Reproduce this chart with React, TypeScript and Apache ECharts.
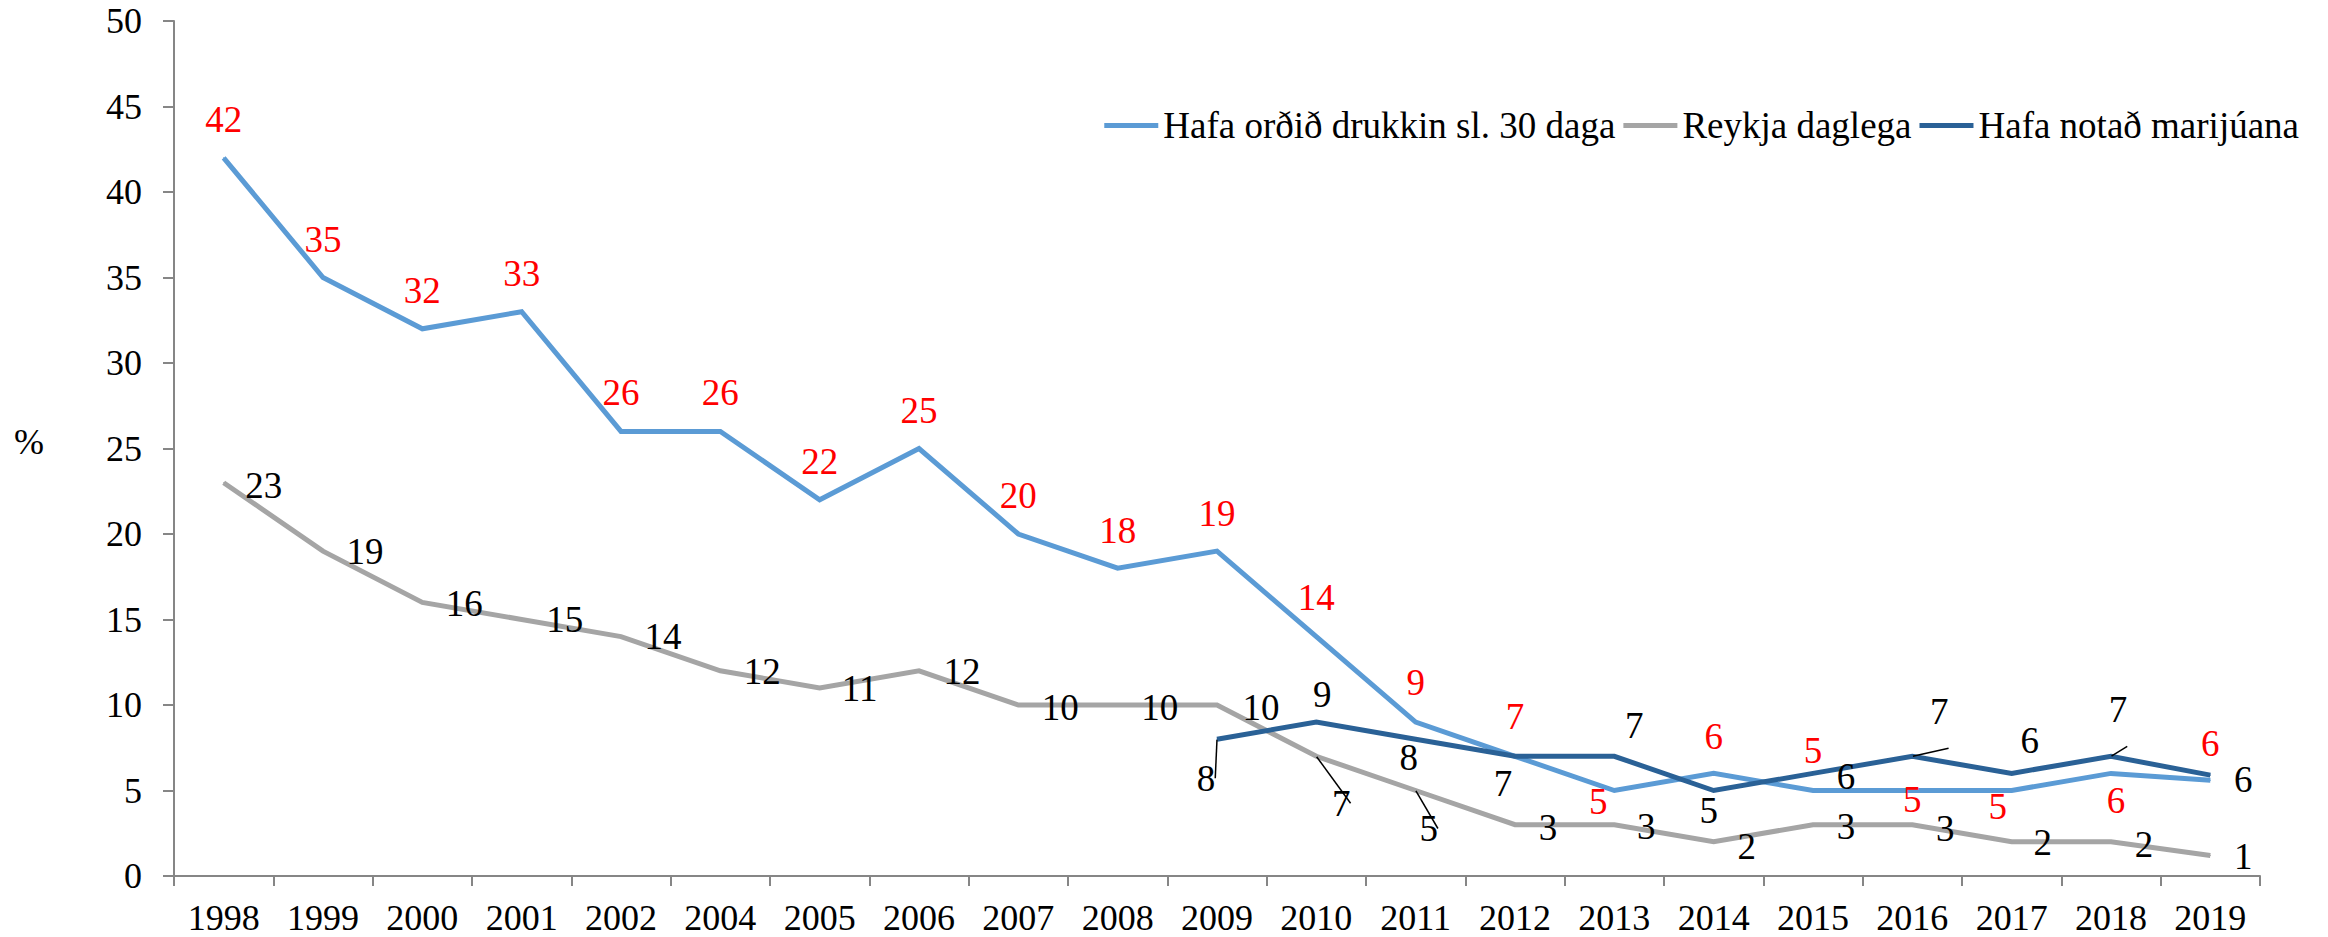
import React, { useEffect, useRef } from "react";
import * as echarts from "echarts";

const years = ["1998","1999","2000","2001","2002","2004","2005","2006","2007","2008","2009","2010","2011","2012","2013","2014","2015","2016","2017","2018","2019"];
const drunkName = "Hafa orðið drukkin sl. 30 daga";
const smokeName = "Reykja daglega";
const mariName = "Hafa notað marijúana";
const drunk = [42,35,32,33,26,26,22,25,20,18,19,14,9,7,5,6,5,5,5,6,5.6];
const smoking = [23,19,16,15,14,12,11,12,10,10,10,7,5,3,3,2,3,3,2,2,1.2];
const marijuana = [null,null,null,null,null,null,null,null,null,null,8,9,8,7,7,5,6,7,6,7,5.9];

// label placement (style only): [dx, dy] from the point to the label centre
const drunkOff = [[0,-38],[0,-38],[0,-38],[0,-38],[0,-39],[0,-39],[0,-38],[0,-38],[0,-39],[0,-38],[0,-38],[0,-39],[0,-40],[0,-40],[-16,11],[0,-37],[0,-40],[0,9],[-14,16],[5,27],[0,-37]];
const smokeOff = [[40,3],[42,0],[42,1],[43,0],[42,0],[42,1],[40,1],[43,1],[42,2],[42,2],[44,2],[25,47],[13,38],[33,3],[32,2],[33,5],[33,2],[33,4],[31,1],[33,3],[33,1]];
const mariOff = [null,null,null,null,null,null,null,null,null,null,[-11,39],[6,-28],[-7,18],[-12,27],[20,-31],[-5,20],[33,3],[27,-45],[18,-33],[7,-47],[33,4]];
const smokeLeaders = [11, 12];
const mariLeaders = [10, 17, 19];

const FONT = "'Liberation Serif', 'Times New Roman', serif";

function items(vals: (number | null)[], offs: any[], leaders: number[]) {
  return vals.map((v, i) => {
    if (v == null) return null;
    const it: any = { value: v, label: { offset: offs[i] } };
    if (leaders.includes(i)) it.labelLine = { show: true };
    return it;
  });
}

function mkSeries(name: string, color: string, labelColor: string, data: any[], z: number) {
  return {
    type: "line",
    name,
    data,
    z,
    symbol: "circle",
    symbolSize: 1,
    showAllSymbol: true,
    connectNulls: false,
    itemStyle: { color },
    lineStyle: { color, width: 5, join: "miter" },
    label: {
      show: true,
      position: "inside",
      fontFamily: FONT,
      fontSize: 37,
      color: labelColor,
      formatter: (p: any) => String(Math.round(Array.isArray(p.value) ? p.value[1] : p.value)),
    },
    labelLine: { show: false, length2: 0, smooth: false, lineStyle: { color: "#000", width: 1.5 } },
    emphasis: { disabled: true },
  };
}

export default function App() {
  const ref = useRef<HTMLDivElement>(null);
  useEffect(() => {
    if (!ref.current) return;
    const chart = echarts.init(ref.current, undefined, { renderer: "svg" });
    chart.setOption({
      animation: false,
      backgroundColor: "#ffffff",
      grid: { left: 174, right: 68, top: 21, bottom: 61, containLabel: false },
      legend: {
        right: 24,
        top: 102,
        icon: "rect",
        itemWidth: 54,
        itemHeight: 5,
        itemGap: 8,
        selectedMode: false,
        textStyle: { fontFamily: FONT, fontSize: 37, color: "#000" },
        data: [drunkName, smokeName, mariName],
      },
      graphic: [
        {
          type: "text",
          x: 29,
          y: 442,
          style: { text: "%", font: `36px ${FONT}`, fill: "#000", textAlign: "center", textVerticalAlign: "middle" },
        },
      ],
      xAxis: {
        type: "category",
        data: years,
        boundaryGap: true,
        axisLine: { lineStyle: { color: "#868686", width: 2 } },
        axisTick: { show: true, alignWithLabel: false, length: 10, interval: 0, lineStyle: { color: "#868686", width: 2 } },
        axisLabel: { interval: 0, margin: 24, fontFamily: FONT, fontSize: 36, color: "#000" },
        splitLine: { show: false },
      },
      yAxis: {
        type: "value",
        min: 0,
        max: 50,
        interval: 5,
        axisLine: { show: true, lineStyle: { color: "#868686", width: 2 } },
        axisTick: { show: true, length: 11, lineStyle: { color: "#868686", width: 2 } },
        axisLabel: { margin: 32, fontFamily: FONT, fontSize: 36, color: "#000" },
        splitLine: { show: false },
      },
      series: [
        mkSeries(drunkName, "#5B9BD5", "#FF0000", items(drunk, drunkOff, []), 2),
        mkSeries(smokeName, "#A5A5A5", "#000000", items(smoking, smokeOff, smokeLeaders), 3),
        mkSeries(mariName, "#2A6196", "#000000", items(marijuana, mariOff, mariLeaders), 4),
      ],
    });
    return () => chart.dispose();
  }, []);
  return <div ref={ref} style={{ position: "fixed", left: 0, top: 0, width: 2328, height: 937 }} />;
}
